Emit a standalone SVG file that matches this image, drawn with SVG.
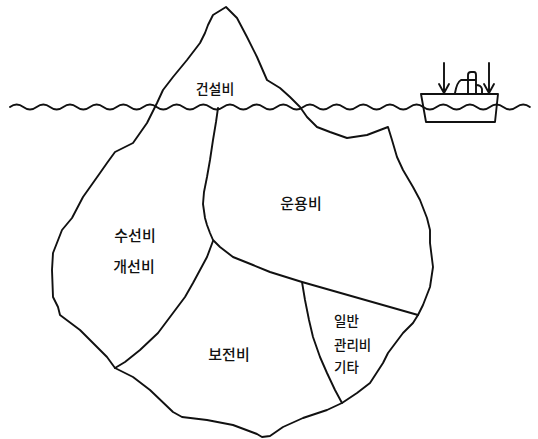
<svg xmlns="http://www.w3.org/2000/svg" width="538" height="439" viewBox="0 0 538 439">
  <style>
    .ln { fill: none; stroke: #111; stroke-width: 1.9; stroke-linejoin: round; stroke-linecap: round; }
    .lbl { font-family: "Noto Sans CJK KR", "Noto Sans", sans-serif; font-size: 15px; font-weight: 500; fill: #111; text-anchor: middle; }
    .sm { font-size: 13.5px; text-anchor: start; }
  </style>
  <rect width="538" height="439" fill="#fff"/>

  <!-- iceberg outline -->
  <g id="iceberg">
    <path class="ln" d="M226,7 L237,18 L247,37 L257,57 L267,80 L280,88 L290,97 L300,107 L307,117 L317,127 L330,132 L347,138 L367,135 L388,127 L392,140 L397,157 L403,170 L413,187 L420,200 L427,218 L430,230 L430,243 L433,267 L430,287 L423,305 L418,315 L413,323 L403,333 L388,353 L383,363 L370,383 L357,393 L342,403 L327,410 L303,418 L283,427 L270,436 L262,437 L257,434 L233,425 L207,420 L182,417 L173,412 L150,390 L133,377 L115,368 L107,357 L80,330 L60,315 L58,307 L53,297 L52,270 L53,253 L62,230 L72,218 L83,197 L100,173 L107,163 L115,152 L133,143 L147,123 L157,103 L163,90 L173,77 L187,60 L200,43 L205,33 L208,25 L213,15 Z"/>
  </g>

  <!-- partition lines inside the iceberg -->
  <g id="partitions">
    <path class="ln" d="M218,108 L216,122 L213,140 L210,160 L207,177 L204,192 L203,204 L205,218 L207,225 L210,233 L213,240 L220,247 L233,257 L253,265 L270,272 L302,282 L418,315"/>
    <path class="ln" d="M115,368 L125,362 L140,350 L158,333 L173,313 L185,297 L193,283 L200,270 L207,257 L213,241"/>
    <path class="ln" d="M302,282 L305,300 L309,320 L313,337 L320,357 L327,373 L335,390 L342,403"/>
  </g>

  <!-- sea surface -->
  <g id="waterline">
    <path class="ln" d="M10,107 q6.67,-5 13.33,0 t13.33,0 t13.33,0 t13.33,0 t13.33,0 t13.33,0 t13.33,0 t13.33,0 t13.33,0 t13.33,0 t13.33,0 t13.33,0 t13.33,0 t13.33,0 t13.33,0 t13.33,0 t13.33,0 t13.33,0 t13.33,0 t13.33,0 t13.33,0 t13.33,0 t13.33,0 t13.33,0 t13.33,0 t13.33,0 t13.33,0 t13.33,0 t13.33,0 t13.33,0 t13.33,0 t13.33,0 t13.33,0 t13.33,0 t13.33,0 t13.33,0 t13.33,0 t13.33,0 t13.33,0"/>
  </g>

  <!-- ship -->
  <g id="ship">
    <path class="ln" d="M421,94 L498,94 L495,122 L426,122 Z"/>
    <path class="ln" d="M455,93 Q457,82 461,80 L468,80"/>
    <path class="ln" d="M468,93 L468,75 Q468,72 471,72 L474,72 Q476,72 476,75 L476,93 M468,80 L476,80"/>
    <path class="ln" d="M476,85 Q481,85 482,89 L482,93"/>
    <path class="ln" d="M444,63 L444,93 M439,84 L444,93 L449,84"/>
    <path class="ln" d="M489,63 L489,93 M484,84 L489,93 L494,84"/>
  </g>

  <!-- cost labels -->
  <g id="label-construction"><text class="lbl" x="215" y="94" style="font-size:14px">건설비</text></g>
  <g id="label-operation"><text class="lbl" x="301" y="209">운용비</text></g>
  <g id="label-repair">
    <text class="lbl" x="135" y="241">수선비</text>
    <text class="lbl" x="134" y="272">개선비</text>
  </g>
  <g id="label-maintenance"><text class="lbl" x="229" y="360">보전비</text></g>
  <g id="label-general">
    <text class="lbl sm" x="334" y="326">일반</text>
    <text class="lbl sm" x="334" y="350">관리비</text>
    <text class="lbl sm" x="334" y="372">기타</text>
  </g>
</svg>
